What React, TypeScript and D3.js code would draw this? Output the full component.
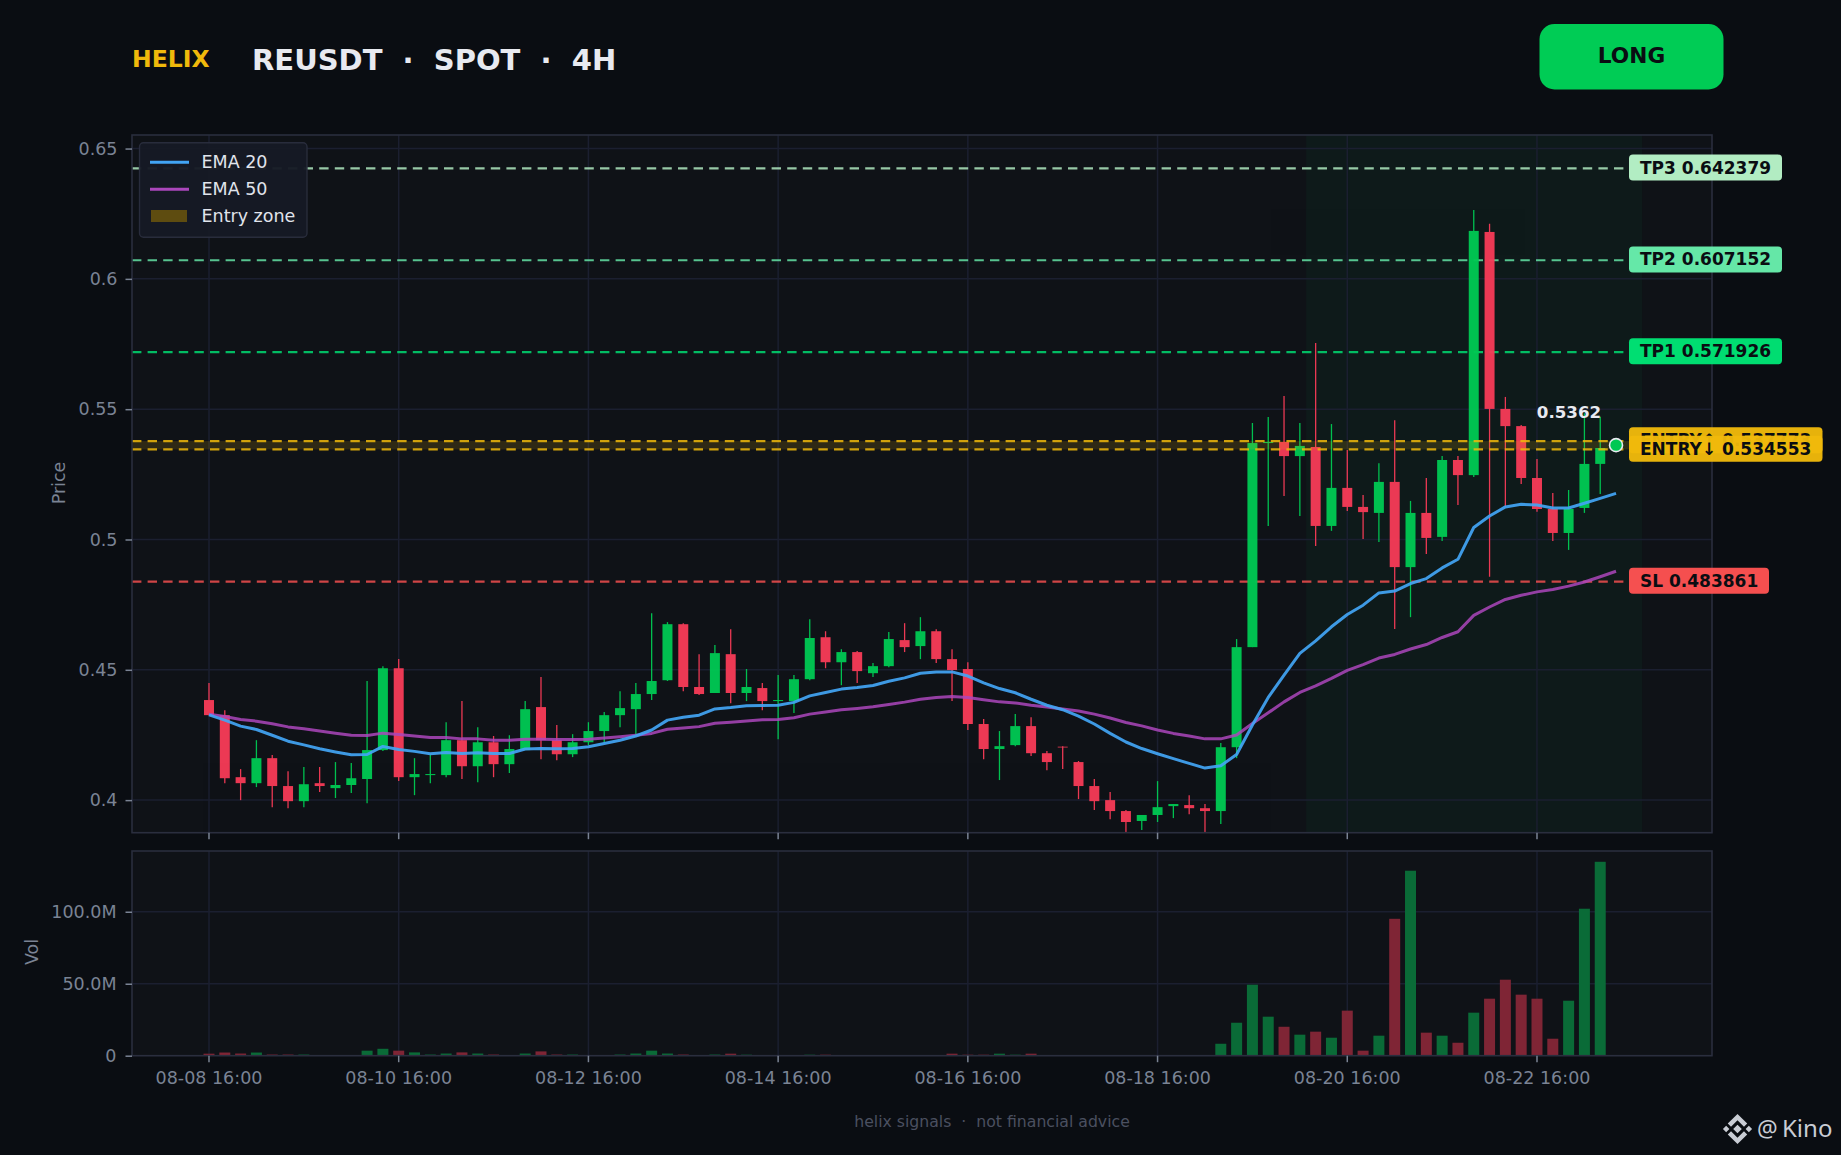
import * as React from 'react';
import {useEffect, useRef} from 'react';
import * as d3 from 'd3';

const WIDTH = 1841;
const HEIGHT = 1155;
const FONT = '"DejaVu Sans", sans-serif';

// 4h candles, first one is 08-08 16:00
const opens = [.4384,.4326,.4088,.4065,.4161,.4054,.3996,.4065,.4046,.4058,.4081,.4192,.4506,.4088,.4096,.4096,.4230,.4130,.4222,.4138,.4192,.4357,.4230,.4176,.4222,.4265,.4326,.4349,.4407,.4460,.4675,.4434,.4411,.4560,.4411,.4430,.4380,.4380,.4464,.4625,.4529,.4568,.4487,.4514,.4614,.4591,.4648,.4541,.4503,.4292,.4196,.4211,.4284,.4180,.4205,.4146,.4054,.4000,.3958,.3920,.3943,.3977,.3981,.3969,.3958,.4203,.4587,.5370,.5374,.5320,.5355,.5052,.5198,.5125,.5102,.5221,.4894,.5102,.5010,.5305,.5247,.6180,.5501,.5435,.5236,.5117,.5025,.5121,.5290];
const highs = [.4449,.4345,.4119,.4230,.4173,.4111,.4127,.4127,.4146,.4142,.4457,.4514,.4541,.4161,.4173,.4299,.4380,.4280,.4246,.4249,.4380,.4472,.4288,.4253,.4299,.4338,.4418,.4449,.4717,.4683,.4679,.4560,.4595,.4656,.4503,.4449,.4480,.4480,.4694,.4648,.4579,.4572,.4526,.4645,.4679,.4702,.4656,.4579,.4529,.4311,.4265,.4330,.4318,.4188,.4207,.4150,.4081,.4031,.3962,.3943,.4073,.3985,.4019,.3985,.4219,.4618,.5447,.5470,.5551,.5447,.5754,.5443,.5343,.5171,.5293,.5458,.5148,.5236,.5320,.5320,.6264,.6211,.5547,.5439,.5309,.5178,.5190,.5484,.5471];
const lows = [.4326,.4065,.4000,.4050,.3973,.3969,.3973,.4031,.4008,.4027,.3988,.4188,.4073,.4019,.4065,.4088,.4081,.4069,.4088,.4104,.4192,.4157,.4153,.4165,.4211,.4222,.4280,.4249,.4384,.4457,.4418,.4403,.4411,.4372,.4380,.4345,.4234,.4334,.4460,.4506,.4441,.4449,.4472,.4510,.4568,.4541,.4526,.4380,.4269,.4157,.4077,.4207,.4169,.4115,.4119,.4004,.3962,.3927,.3877,.3885,.3916,.3931,.3946,.3877,.3908,.4161,.4587,.5052,.5167,.5090,.4975,.5033,.5109,.5002,.4990,.4657,.4702,.4944,.4994,.5132,.5240,.4857,.5125,.5213,.5106,.4994,.4960,.5102,.5175];
const closes = [.4326,.4084,.4065,.4161,.4054,.3996,.4061,.4054,.4058,.4084,.4192,.4506,.4088,.4100,.4100,.4230,.4130,.4222,.4138,.4196,.4349,.4230,.4176,.4222,.4265,.4326,.4353,.4407,.4457,.4675,.4434,.4407,.4564,.4411,.4434,.4380,.4384,.4464,.4622,.4529,.4568,.4495,.4514,.4618,.4587,.4648,.4541,.4499,.4292,.4196,.4207,.4284,.4180,.4146,.4204,.4054,.3996,.3958,.3916,.3943,.3973,.3985,.3969,.3958,.4203,.4587,.5370,.5374,.5320,.5359,.5052,.5198,.5125,.5105,.5221,.4894,.5102,.5006,.5305,.5247,.6184,.5501,.5435,.5236,.5117,.5025,.5117,.5290,.5351];
// millions
const volumes = [1.4,2.2,1.5,2.2,.8,.8,.8,.2,.2,.2,3.5,4.8,3.5,2.3,.8,1.5,2.3,1.5,.8,.2,1.5,3,.8,.8,.2,.2,.8,1.5,3.5,1.5,.8,.2,.8,1.4,.7,.15,.3,.3,.7,.7,.3,.15,.15,.3,.15,.3,.15,1.4,.7,.7,1.4,.7,1.4,.15,.15,.15,.15,.15,.15,.15,.3,.3,.15,.15,8.3,22.9,49.3,27.1,20.1,14.6,16.7,12.5,31.3,3.5,13.9,95.1,128.5,16,13.9,9,29.9,39.6,52.8,42.4,39.6,11.8,38.2,102.1,134.7];
// one point longer than the candles, the last one sits under the price dot
const ema20 = [.4327,.4307,.4284,.4271,.4249,.4226,.4212,.4197,.4185,.4174,.4175,.4206,.4194,.4187,.4178,.4183,.4179,.4182,.4179,.4179,.4196,.4198,.4197,.4198,.4205,.4217,.4230,.4246,.4269,.4307,.4318,.4326,.4350,.4355,.4362,.4363,.4364,.4375,.4400,.4413,.4426,.4432,.4440,.4456,.4469,.4487,.4492,.4492,.4476,.4450,.4428,.4412,.4387,.4364,.4347,.4322,.4292,.4256,.4223,.4198,.4178,.4159,.4141,.4123,.4132,.4175,.4288,.4394,.4480,.4563,.4611,.4665,.4712,.4748,.4795,.4802,.4831,.4850,.4891,.4924,.5046,.5090,.5125,.5135,.5132,.5121,.5121,.5139,.5158,.5177];
const ema50 = [.4330,.4321,.4309,.4303,.4293,.4281,.4274,.4265,.4257,.4249,.4248,.4257,.4252,.4246,.4240,.4240,.4235,.4235,.4230,.4230,.4234,.4234,.4233,.4233,.4234,.4238,.4243,.4249,.4256,.4272,.4277,.4282,.4295,.4299,.4304,.4308,.4309,.4316,.4330,.4338,.4347,.4352,.4358,.4367,.4376,.4387,.4394,.4398,.4394,.4385,.4377,.4373,.4364,.4357,.4350,.4342,.4330,.4315,.4298,.4285,.4269,.4256,.4246,.4235,.4235,.4250,.4294,.4335,.4377,.4413,.4438,.4467,.4498,.4520,.4545,.4559,.4580,.4597,.4624,.4646,.4709,.4741,.4770,.4786,.4799,.4808,.4821,.4837,.4857,.4878];

const levelNames = ['TP3', 'TP2', 'TP1', 'SL'];
const levelValues = [0.642379, 0.607152, 0.571926, 0.483861];
const levelColors = ['#b9f6ca', '#69f0ae', '#00e676', '#ff5252'];
const entryNames = ['ENTRY↑', 'ENTRY↓'];
const entryValues = [0.537773, 0.534553];
const lastPrice = 0.5362;
const zoneStart = 69.4;
const zoneEnd = 90.65;

const priceTicks = [0.4, 0.45, 0.5, 0.55, 0.6, 0.65];
const volTicks = [0, 50, 100];
const dateTickIndex = [0, 12, 24, 36, 48, 60, 72, 84];
const dateTickLabels = ['08-08 16:00', '08-10 16:00', '08-12 16:00', '08-14 16:00', '08-16 16:00', '08-18 16:00', '08-20 16:00', '08-22 16:00'];

const UP = '#00c853';
const DOWN = '#f53b57';
const GOLD = '#f0b90b';
const TICK = '#7a8394';
const GRID = '#1b1f30';
const SPINE = '#2a2e3e';
const INK = '#0a0d12';
const BLUE = '#42a5f5';
const PURPLE = '#ab47bc';

const App = () => {
    const chartRef = useRef<SVGSVGElement>(null);

    useEffect(() => {
        document.body.style.margin = '0';
        document.body.style.background = INK;

        const svg = d3.select(chartRef.current);
        svg.selectAll('*').remove();
        svg.style('font-family', FONT);

        const left = 132, right = 1712;
        const x = d3.scaleLinear().domain([-4.87, 95.07]).range([left, right]);
        const y = d3.scaleLinear().domain([0.3875, 0.6552]).range([832.7, 135]);
        const yVol = d3.scaleLinear().domain([0, 142.2]).range([1055.7, 851]);

        svg.append('rect').attr('width', WIDTH).attr('height', HEIGHT).attr('fill', INK);

        const defs = svg.append('defs');
        defs.append('clipPath').attr('id', 'priceClip').append('rect')
            .attr('x', left).attr('y', 135).attr('width', right - left).attr('height', 832.7 - 135);

        // panels
        const panels = [[135, 832.7], [851, 1055.7]];
        panels.forEach(([top, bottom]) => {
            svg.append('rect').attr('x', left).attr('y', top).attr('width', right - left).attr('height', bottom - top).attr('fill', '#0f1217');
        });

        svg.append('rect')
            .attr('x', x(zoneStart)).attr('y', 135)
            .attr('width', x(zoneEnd) - x(zoneStart)).attr('height', 832.7 - 135)
            .attr('fill', UP).attr('opacity', 0.045);

        // grid
        const grid = svg.append('g').attr('stroke', GRID).attr('stroke-width', 1.5);
        priceTicks.forEach(t => {
            grid.append('line').attr('x1', left).attr('x2', right).attr('y1', y(t)).attr('y2', y(t));
        });
        volTicks.slice(1).forEach(t => {
            grid.append('line').attr('x1', left).attr('x2', right).attr('y1', yVol(t)).attr('y2', yVol(t));
        });
        dateTickIndex.forEach(i => {
            panels.forEach(([top, bottom]) => {
                grid.append('line').attr('x1', x(i)).attr('x2', x(i)).attr('y1', top).attr('y2', bottom);
            });
        });

        const price = svg.append('g').attr('clip-path', 'url(#priceClip)');

        // target and stop lines go under the candles
        const lineEnd = 1629;
        levelValues.forEach((v, i) => {
            price.append('line')
                .attr('x1', left).attr('x2', lineEnd).attr('y1', y(v)).attr('y2', y(v))
                .attr('stroke', levelColors[i]).attr('stroke-width', 2.2)
                .attr('stroke-dasharray', '9.4 6.2').attr('opacity', 0.8);
        });

        // candles
        const candles = price.append('g').attr('opacity', 0.96);
        opens.forEach((o, i) => {
            const c = closes[i];
            const color = c >= o ? UP : DOWN;
            candles.append('line')
                .attr('x1', x(i)).attr('x2', x(i)).attr('y1', y(highs[i])).attr('y2', y(lows[i]))
                .attr('stroke', color).attr('stroke-width', 1.3);
            const top = y(Math.max(o, c));
            const h = Math.max(Math.abs(y(o) - y(c)), 0.8);
            candles.append('rect')
                .attr('x', x(i) - 5).attr('y', top).attr('width', 10).attr('height', h)
                .attr('fill', color);
        });

        // entry zone on top of the candles
        svg.append('rect')
            .attr('x', left).attr('y', y(entryValues[0]))
            .attr('width', lineEnd - left).attr('height', y(entryValues[1]) - y(entryValues[0]))
            .attr('fill', GOLD).attr('opacity', 0.14);
        entryValues.forEach(v => {
            svg.append('line')
                .attr('x1', left).attr('x2', lineEnd).attr('y1', y(v)).attr('y2', y(v))
                .attr('stroke', GOLD).attr('stroke-width', 2.2)
                .attr('stroke-dasharray', '9.4 6.2').attr('opacity', 0.85);
        });

        // ema lines
        const lineFor = d3.line<number>().x((d, i) => x(i)).y(d => y(d));
        [[ema50, PURPLE, 0.85], [ema20, BLUE, 0.92]].forEach(([values, color, alpha]) => {
            price.append('path')
                .attr('d', lineFor(values as number[]))
                .attr('fill', 'none').attr('stroke', color as string)
                .attr('stroke-width', 3).attr('opacity', alpha as number).attr('stroke-linejoin', 'round');
        });

        // volume
        volumes.forEach((v, i) => {
            svg.append('rect')
                .attr('x', x(i) - 5.5).attr('y', yVol(v))
                .attr('width', 11).attr('height', yVol(0) - yVol(v))
                .attr('fill', closes[i] >= opens[i] ? '#0a6b37' : '#7f2535');
        });

        // spines
        panels.forEach(([top, bottom]) => {
            svg.append('rect').attr('x', left).attr('y', top).attr('width', right - left).attr('height', bottom - top)
                .attr('fill', 'none').attr('stroke', SPINE).attr('stroke-width', 1.6);
        });

        // axes
        const styleAxis = (g, size) => {
            g.select('.domain').remove();
            g.selectAll('.tick line').attr('stroke', TICK).attr('stroke-width', 1.5);
            g.selectAll('.tick text').attr('fill', TICK).style('font-size', `${size}px`).style('font-family', FONT);
        };

        const priceAxis = svg.append('g').attr('transform', `translate(${left},0)`)
            .call(d3.axisLeft(y).tickValues(priceTicks).tickFormat(d => String(d)).tickSize(6.5).tickPadding(8));
        styleAxis(priceAxis, 17.5);

        const volAxis = svg.append('g').attr('transform', `translate(${left},0)`)
            .call(d3.axisLeft(yVol).tickValues(volTicks).tickFormat(d => (+d === 0 ? '0' : `${(+d).toFixed(1)}M`)).tickSize(6.5).tickPadding(9));
        styleAxis(volAxis, 17.5);

        const topX = svg.append('g').attr('transform', 'translate(-0.5,832.7)')
            .call(d3.axisBottom(x).tickValues(dateTickIndex).tickFormat(() => '').tickSize(6.5));
        styleAxis(topX, 17.5);

        const bottomX = svg.append('g').attr('transform', 'translate(-0.5,1055.7)')
            .call(d3.axisBottom(x).tickValues(dateTickIndex).tickFormat((d) => dateTickLabels[dateTickIndex.indexOf(+d)]).tickSize(6.5).tickPadding(9));
        styleAxis(bottomX, 17.5);

        svg.append('text').attr('transform', 'translate(65,483) rotate(-90)')
            .attr('text-anchor', 'middle').attr('fill', TICK).style('font-size', '17.5px').text('Price');
        svg.append('text').attr('transform', 'translate(38,952) rotate(-90)')
            .attr('text-anchor', 'middle').attr('fill', TICK).style('font-size', '17.5px').text('Vol');

        // level labels
        const addLabel = (value, text, color, w) => {
            const cy = y(value) - 0.8;
            svg.append('rect').attr('x', 1629).attr('y', cy - 13).attr('width', w).attr('height', 26).attr('rx', 4)
                .attr('fill', color).attr('opacity', 0.96);
            svg.append('text').attr('x', 1640).attr('y', cy + 6)
                .attr('fill', INK).style('font-size', '17px').style('font-weight', 'bold').text(text);
        };
        levelValues.forEach((v, i) => {
            addLabel(v, `${levelNames[i]} ${v.toFixed(6)}`, levelColors[i], levelNames[i] === 'SL' ? 140 : 153);
        });
        entryValues.forEach((v, i) => {
            addLabel(v, `${entryNames[i]} ${v.toFixed(6)}`, GOLD, 193.5);
        });

        // last price
        svg.append('circle').attr('cx', x(89)).attr('cy', y(lastPrice)).attr('r', 6.5)
            .attr('fill', UP).attr('stroke', '#e8eaf0').attr('stroke-width', 1.6);
        svg.append('text').attr('x', 1569).attr('y', 418).attr('text-anchor', 'middle')
            .attr('fill', '#e8eaf0').style('font-size', '16.67px').style('font-weight', 'bold').text(lastPrice.toFixed(4));

        // legend
        const legend = svg.append('g');
        legend.append('rect').attr('x', 139.5).attr('y', 142.7).attr('width', 167.5).attr('height', 94.6).attr('rx', 4)
            .attr('fill', '#161a25').attr('stroke', SPINE).attr('stroke-width', 1.4).attr('opacity', 0.96);
        legend.append('line').attr('x1', 150).attr('x2', 189).attr('y1', 162.3).attr('y2', 162.3).attr('stroke', BLUE).attr('stroke-width', 3);
        legend.append('line').attr('x1', 150).attr('x2', 189).attr('y1', 189.3).attr('y2', 189.3).attr('stroke', PURPLE).attr('stroke-width', 3);
        legend.append('rect').attr('x', 151).attr('y', 210).attr('width', 36).attr('height', 12).attr('fill', '#5e4c10');
        [['EMA 20', 168], ['EMA 50', 195], ['Entry zone', 222]].forEach(([t, by]) => {
            legend.append('text').attr('x', 201.5).attr('y', by as number)
                .attr('fill', '#e0e4ec').style('font-size', '17.5px').text(t as string);
        });

        // header
        svg.append('text').attr('x', 132).attr('y', 66.5).attr('fill', GOLD)
            .style('font-size', '23.5px').style('font-weight', 'bold').text('HELIX');
        svg.append('text').attr('x', 252).attr('y', 70).attr('fill', '#e8eaf0')
            .style('font-size', '29px').style('font-weight', 'bold').style('white-space', 'pre')
            .text('REUSDT  ·  SPOT  ·  4H');
        svg.append('rect').attr('x', 1539.5).attr('y', 24).attr('width', 184).attr('height', 65.5).attr('rx', 15)
            .attr('fill', '#00cc55');
        svg.append('text').attr('x', 1631.5).attr('y', 63).attr('text-anchor', 'middle').attr('fill', INK)
            .style('font-size', '21.67px').style('font-weight', 'bold').text('LONG');

        // footer
        svg.append('text').attr('x', 992).attr('y', 1127).attr('text-anchor', 'middle').attr('fill', '#4a5060')
            .style('font-size', '15.7px').style('white-space', 'pre').text('helix signals  ·  not financial advice');

        // watermark
        const mark = svg.append('g').attr('transform', 'translate(1737.5,1129) scale(1.08)').attr('fill', '#c9ccd4');
        const diamond = (cx, cy, r) => `M${cx - r},${cy}L${cx},${cy - r}L${cx + r},${cy}L${cx},${cy + r}Z`;
        mark.append('path').attr('d', diamond(0, 0, 4) + diamond(-10.5, 0, 3) + diamond(10.5, 0, 3));
        mark.append('path').attr('d', 'M0,-14L9,-5L6,-2L0,-8L-6,-2L-9,-5Z');
        mark.append('path').attr('d', 'M0,14L9,5L6,2L0,8L-6,2L-9,5Z');
        svg.append('text').attr('x', 1757).attr('y', 1137).attr('fill', '#c9ccd4')
            .style('font-family', '"Noto Sans", sans-serif').style('font-size', '23px').text('@');
        svg.append('text').attr('x', 1782).attr('y', 1137).attr('fill', '#c9ccd4')
            .style('font-family', '"Noto Sans", sans-serif').style('font-size', '24px').text('Kino');
    }, []);

    return <svg ref={chartRef} width={WIDTH} height={HEIGHT} style={{display: 'block'}} />;
};

export default App;
